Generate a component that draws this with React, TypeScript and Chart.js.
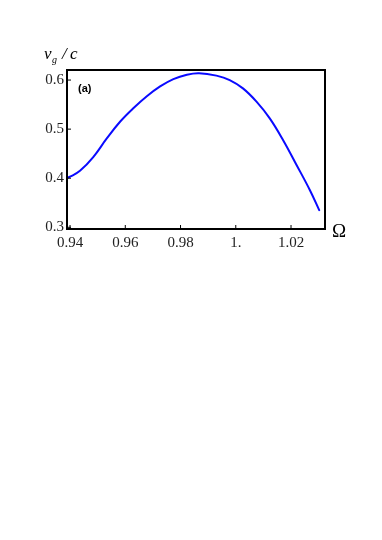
import React, { useEffect, useRef } from "react";
import { Chart, registerables } from "chart.js";

Chart.register(...registerables);

const omega = [0.9389, 0.94, 0.9436, 0.9484, 0.9533, 0.9581, 0.963, 0.9678, 0.9726, 0.9774, 0.9823, 0.9867, 0.993, 0.9978, 1.0026, 1.0075, 1.0123, 1.0171, 1.022, 1.0268, 1.0302];
const vg = [0.401, 0.403, 0.415, 0.443, 0.481, 0.515, 0.543, 0.567, 0.587, 0.602, 0.611, 0.614, 0.609, 0.6, 0.583, 0.556, 0.522, 0.478, 0.427, 0.376, 0.335];
const xTicks = [0.94, 0.96, 0.98, 1.0, 1.02];
const xTickLabels = ["0.94", "0.96", "0.98", "1.", "1.02"];
const yTicks = [0.3, 0.4, 0.5, 0.6];
const yTickLabels = ["0.3", "0.4", "0.5", "0.6"];
const panelLabel = "(a)";
const xTitle = "Ω";

const SERIF = "'Liberation Serif', 'DejaVu Serif', serif";

export default function App() {
  const ref = useRef<HTMLCanvasElement | null>(null);
  useEffect(() => {
    if (!ref.current) return;
    const framePlugin = {
      id: "frame",
      afterDraw(chart: any) {
        const { ctx, chartArea: a, scales } = chart;
        ctx.save();
        ctx.strokeStyle = "#000";
        ctx.lineWidth = 2;
        ctx.strokeRect(a.left, a.top, a.right - a.left, a.bottom - a.top);
        ctx.lineWidth = 1;
        xTicks.forEach((t) => {
          const x = scales.x.getPixelForValue(t);
          ctx.beginPath();
          ctx.moveTo(x, a.bottom);
          ctx.lineTo(x, a.bottom - 4);
          ctx.stroke();
        });
        yTicks.forEach((t) => {
          const y = scales.y.getPixelForValue(t);
          ctx.beginPath();
          ctx.moveTo(a.left, y);
          ctx.lineTo(a.left + 4, y);
          ctx.stroke();
        });
        ctx.fillStyle = "#000";
        ctx.textBaseline = "alphabetic";
        ctx.textAlign = "left";
        ctx.font = `italic 17px ${SERIF}`;
        ctx.fillText("v", 44, 59);
        ctx.font = `italic 10px ${SERIF}`;
        ctx.fillText("g", 52, 63);
        ctx.font = `italic 17px ${SERIF}`;
        ctx.fillText("/", 62, 59);
        ctx.fillText("c", 70, 59);
        ctx.font = `bold 11px 'Liberation Sans', Arial, sans-serif`;
        ctx.fillText(panelLabel, 78, 92);
        ctx.font = `19px ${SERIF}`;
        ctx.textBaseline = "middle";
        ctx.fillText(xTitle, 332, 232);
        ctx.restore();
      },
    };
    const chart = new Chart(ref.current, {
      type: "line",
      data: {
        datasets: [
          {
            data: omega.map((x, i) => ({ x, y: vg[i] })),
            borderColor: "#0a0aff",
            borderWidth: 2,
            pointRadius: 0,
            fill: false,
            tension: 0.4,
            borderCapStyle: "round",
          },
        ],
      },
      options: {
        animation: false,
        responsive: false,
        maintainAspectRatio: false,
        layout: { padding: { left: 0, top: 70, right: 57, bottom: 281 } },
        plugins: { legend: { display: false }, tooltip: { enabled: false } },
        scales: {
          x: {
            type: "linear",
            min: 0.9389,
            max: 1.0323,
            grid: { display: false, drawTicks: false },
            border: { display: false },
            afterBuildTicks(s: any) {
              s.ticks = xTicks.map((v) => ({ value: v }));
            },
            afterFit(s: any) {
              s.height = 30;
            },
            ticks: {
              padding: 5,
              color: "#222",
              font: { family: SERIF, size: 15 },
              callback: (v: any) => {
                const i = xTicks.findIndex((t) => Math.abs(t - Number(v)) < 1e-6);
                return i >= 0 ? xTickLabels[i] : "";
              },
            },
          },
          y: {
            type: "linear",
            min: 0.2965,
            max: 0.6205,
            grid: { display: false, drawTicks: false },
            border: { display: false },
            afterBuildTicks(s: any) {
              s.ticks = yTicks.map((v) => ({ value: v }));
            },
            afterFit(s: any) {
              s.width = 67;
            },
            ticks: {
              padding: 3,
              color: "#222",
              font: { family: SERIF, size: 15 },
              callback: (v: any) => {
                const i = yTicks.findIndex((t) => Math.abs(t - Number(v)) < 1e-6);
                return i >= 0 ? yTickLabels[i] : "";
              },
            },
          },
        },
      },
      plugins: [framePlugin],
    } as any);
    return () => chart.destroy();
  }, []);
  return (
    <div style={{ position: "absolute", left: 0, top: 0, width: 382, height: 540, background: "#fff" }}>
      <canvas ref={ref} width={382} height={540} style={{ display: "block" }} />
    </div>
  );
}
